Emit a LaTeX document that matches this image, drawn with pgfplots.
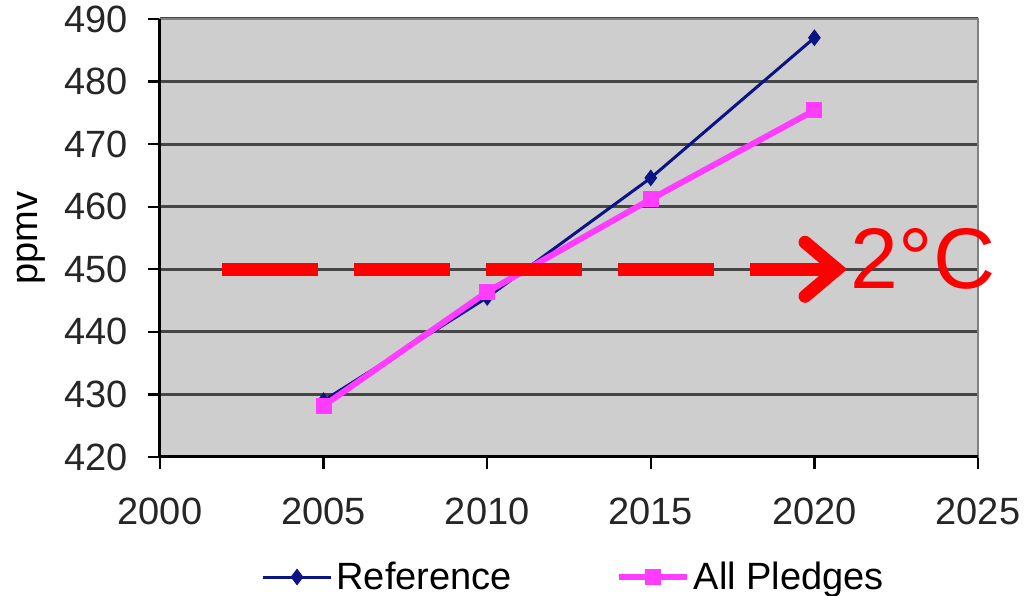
\documentclass[border=0pt]{standalone}
\usepackage{fontspec}
\setmainfont{Liberation Sans}
\usepackage{pgfplots}
\pgfplotsset{compat=1.18}
\usetikzlibrary{arrows.meta}

\definecolor{refblue}{RGB}{10,20,135}
\definecolor{pledgepink}{RGB}{255,60,255}
\definecolor{plotbg}{RGB}{206,206,206}
\definecolor{gridgray}{RGB}{70,70,70}

\begin{document}
\begin{tikzpicture}
\begin{axis}[
  name=ax,
  scale only axis,
  width=409pt, height=219pt,
  xmin=2000, xmax=2025,
  ymin=420, ymax=490,
  xtick={2000,2005,2010,2015,2020,2025},
  ytick={420,430,440,450,460,470,480,490},
  x tick label style={/pgf/number format/1000 sep=, yshift=-11pt},
  y tick label style={xshift=-6.5pt},
  /pgf/number format/assume math mode=true,
  tick label style={font=\fontsize{19}{22}\selectfont, text=black!85},
  tick align=outside,
  xtick pos=bottom, ytick pos=left,
  major tick length=6pt,
  tick style={black, line width=1.2pt},
  ymajorgrids,
  major grid style={gridgray, line width=1.5pt},
  axis line style={gray, line width=1pt},
  axis background/.style={fill=plotbg},
  ylabel={ppmv},
  ylabel style={font=\fontsize{19}{22}\selectfont, at={(axis description cs:-0.157,0.5)}, anchor=center},
  legend columns=-1,
  legend style={draw=none, fill=none, at={(axis description cs:0.507,-0.274)}, anchor=center,
    font=\fontsize{19}{22}\selectfont,
    /tikz/every even column/.append style={column sep=50pt}},
  legend image code/.code={\draw[mark repeat=2,mark phase=2] plot coordinates {(0pt,0pt) (17pt,0pt) (34pt,0pt)};},
  clip=false,
]
\draw[black, line width=1.5pt] (rel axis cs:0,1) -- (rel axis cs:0,0) -- (rel axis cs:1,0);

\addplot[refblue, line width=1.5pt, mark=diamond*, mark size=3pt, mark options={solid}]
  coordinates {(2005,429) (2010,445.5) (2015,464.6) (2020,487)};
\addlegendentry{Reference}

\addplot[pledgepink, line width=3pt, mark=square*, mark size=2.5pt, mark options={solid}]
  coordinates {(2005,428.2) (2010,446.4) (2015,461.2) (2020,475.4)};
\addlegendentry{All Pledges}

\draw[red, line width=6.5pt, dash pattern=on 48pt off 18pt,
  -{Straight Barb[length=16pt, width=27pt, line cap=round]}]
  (axis cs:2001.9,450) -- (axis cs:2021.0,450);
\node[anchor=west, text=red, font=\fontsize{43}{48}\selectfont, inner sep=0pt]
  at (axis cs:2021.1,451.6) {2°C};
\end{axis}
\pgfresetboundingbox
\path ([shift={(-80pt,-69.5pt)}]ax.south west) rectangle ([shift={(27.5pt,9.5pt)}]ax.north east);
\end{tikzpicture}
\end{document}
